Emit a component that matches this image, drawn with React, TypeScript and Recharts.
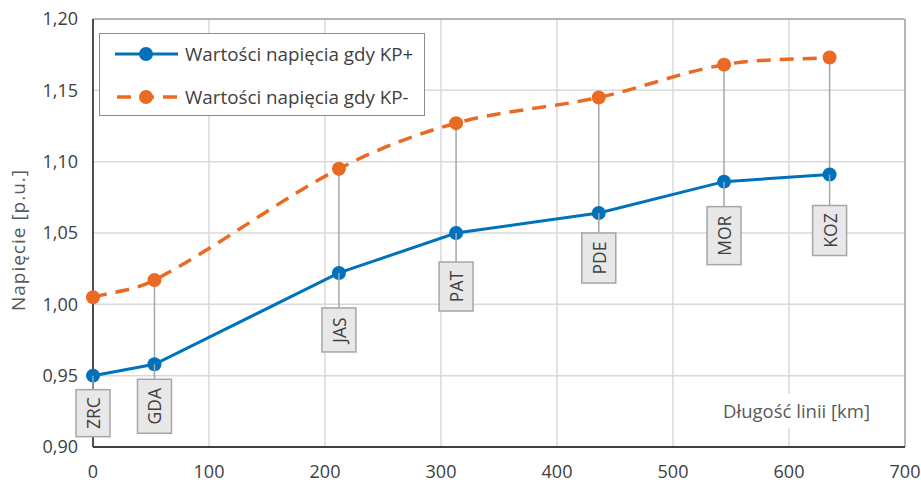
import React from 'react';
import {
  ComposedChart,
  Line,
  XAxis,
  YAxis,
  CartesianGrid,
  ErrorBar,
  LabelList,
  ReferenceLine,
  Label,
} from 'recharts';

// ---- data ----
const distancesKm = [0, 53, 212, 313, 436, 544, 635];
const stations = ['ZRC', 'GDA', 'JAS', 'PAT', 'PDE', 'MOR', 'KOZ'];
const kpPlus = [0.95, 0.958, 1.022, 1.05, 1.064, 1.086, 1.091];
const kpMinus = [1.005, 1.017, 1.095, 1.127, 1.145, 1.168, 1.173];
const xTicks = [0, 100, 200, 300, 400, 500, 600, 700];
const yTicks = [0.9, 0.95, 1.0, 1.05, 1.1, 1.15, 1.2];
const seriesNames = ['Wartości napięcia gdy KP+', 'Wartości napięcia gdy KP-'];

// ---- styles ----
const FONT = '"Open Sans", Lato, sans-serif';
const BLUE = '#0072BC';
const ORANGE = '#EA6A24';
const DROP = '#a6a6a6';
const labelGap = [14, 15, 35, 29, 20, 25, 31];
const labelBoxHeight = [47, 54, 44, 49, 50, 58, 50];

const data = distancesKm.map((d, i) => ({
  km: d,
  name: stations[i],
  plus: kpPlus[i],
  minus: kpMinus[i],
  span: [0, kpMinus[i] - kpPlus[i]],
}));

const fmt = (v: number, digits: number) => v.toFixed(digits).replace('.', ',');

// Smoothed line: cubic Hermite with finite-difference slopes (Excel-like look)
function smoothCurve(context: any) {
  let pts: [number, number][] = [];
  return {
    areaStart() {},
    areaEnd() {},
    lineStart() {
      pts = [];
    },
    point(x: number, y: number) {
      pts.push([+x, +y]);
    },
    lineEnd() {
      const n = pts.length;
      if (!n) return;
      context.moveTo(pts[0][0], pts[0][1]);
      if (n === 1) return;
      const slope = (a: [number, number], b: [number, number]) => (b[1] - a[1]) / (b[0] - a[0] || 1);
      const m = pts.map((p, i) => {
        if (i === 0) return slope(pts[0], pts[1]);
        if (i === n - 1) return slope(pts[n - 2], pts[n - 1]);
        return slope(pts[i - 1], pts[i + 1]);
      });
      for (let i = 0; i < n - 1; i++) {
        const p1 = pts[i];
        const p2 = pts[i + 1];
        const dx = (p2[0] - p1[0]) / 3;
        context.bezierCurveTo(p1[0] + dx, p1[1] + m[i] * dx, p2[0] - dx, p2[1] - m[i + 1] * dx, p2[0], p2[1]);
      }
    },
  };
}

const StationLabel = (props: any) => {
  const { x, y, index } = props;
  if (x == null || y == null) return null;
  const gap = labelGap[index] ?? 20;
  const h = labelBoxHeight[index] ?? 50;
  const w = 34;
  const top = y + gap;
  const cy = top + h / 2;
  return (
    <g>
      <line x1={x} y1={y} x2={x} y2={top} stroke={DROP} strokeWidth={1.5} />
      <rect x={x - w / 2} y={top} width={w} height={h} fill="#e8e8e8" stroke="#a6a6a6" strokeWidth={1.5} />
      <text
        x={x}
        y={cy}
        transform={`rotate(-90 ${x} ${cy})`}
        textAnchor="middle"
        dominantBaseline="central"
        fontFamily={FONT}
        fontSize={17.5}
        fill="#404040"
      >
        {stations[index]}
      </text>
    </g>
  );
};

const XTitle = (props: any) => {
  const vb = props.viewBox || {};
  const right = vb.x + vb.width - 35;
  const base = vb.y - 29;
  return (
    <g>
      <rect x={right - 156} y={vb.y - 53} width={160} height={34} fill="#ffffff" />
      <text x={right} y={base} textAnchor="end" fontFamily={FONT} fontSize={18.5} fill="#595959">
        Długość linii [km]
      </text>
    </g>
  );
};

const YTitle = (props: any) => {
  const vb = props.viewBox || {};
  const cx = 18;
  const cy = vb.y + vb.height / 2 + 7;
  return (
    <text
      x={cx}
      y={cy}
      transform={`rotate(-90 ${cx} ${cy})`}
      textAnchor="middle"
      dominantBaseline="central"
      fontFamily={FONT}
      fontSize={19}
      letterSpacing={1}
      fill="#595959"
    >
      Napięcie [p.u.]
    </text>
  );
};

const LegendBox = () => (
  <div
    style={{
      position: 'absolute',
      left: 99,
      top: 33,
      width: 326,
      height: 83,
      boxSizing: 'border-box',
      border: '1.5px solid #8c8c8c',
      background: '#ffffff',
    }}
  >
    <svg width={324} height={81} style={{ display: 'block' }}>
      <line x1={15} y1={20} x2={78} y2={20} stroke={BLUE} strokeWidth={3} />
      <circle cx={46} cy={20} r={7} fill={BLUE} />
      <text x={85} y={20} dominantBaseline="central" fontFamily={FONT} fontSize={18.8} fill="#404040">
        {seriesNames[0]}
      </text>
      <line x1={15} y1={63} x2={78} y2={63} stroke={ORANGE} strokeWidth={3.5} strokeDasharray="14 9" strokeDashoffset={-2} />
      <circle cx={46} cy={63} r={7} fill={ORANGE} />
      <text x={85} y={63} dominantBaseline="central" fontFamily={FONT} fontSize={18.8} fill="#404040">
        {seriesNames[1]}
      </text>
    </svg>
  </div>
);

export default function App() {
  return (
    <div style={{ position: 'absolute', left: 0, top: 0, width: 921, height: 484, background: '#ffffff' }}>
      <ComposedChart width={921} height={484} data={data} margin={{ top: 19, right: 16, bottom: 0, left: 0 }}>
        <CartesianGrid stroke="#d9d9d9" strokeWidth={1.5} />
        <XAxis
          dataKey="km"
          type="number"
          domain={[0, 700]}
          ticks={xTicks}
          height={37}
          tickLine={false}
          tickSize={0}
          tickMargin={18}
          axisLine={{ stroke: '#404040', strokeWidth: 1.8 }}
          tick={{ fontFamily: FONT, fontSize: 18, fill: '#404040' }}
          tickFormatter={(v: number) => String(v)}
          interval={0}
        >
          <Label content={<XTitle />} />
        </XAxis>
        <YAxis
          type="number"
          domain={[0.9, 1.2]}
          ticks={yTicks}
          width={93}
          tickLine={false}
          tickSize={0}
          tickMargin={15}
          allowDataOverflow
          axisLine={{ stroke: '#404040', strokeWidth: 1.8 }}
          tick={{ fontFamily: FONT, fontSize: 18, fill: '#404040' }}
          tickFormatter={(v: number) => fmt(v, 2)}
          interval={0}
        >
          <Label content={<YTitle />} />
        </YAxis>
        <ReferenceLine y={1.2} stroke="#a6a6a6" strokeWidth={1.5} />
        <ReferenceLine x={700} stroke="#a6a6a6" strokeWidth={1.5} />
        <Line
          dataKey="plus"
          type="linear"
          stroke={BLUE}
          strokeWidth={3}
          dot={{ r: 7, fill: BLUE, stroke: BLUE, strokeWidth: 0 }}
          activeDot={false}
          isAnimationActive={false}
        >
          <ErrorBar dataKey="span" width={0} stroke={DROP} strokeWidth={1.5} direction="y" />
          <LabelList dataKey="name" content={<StationLabel />} />
        </Line>
        <Line
          dataKey="minus"
          type={smoothCurve as any}
          stroke={ORANGE}
          strokeWidth={3.5}
          strokeDasharray="14 9"
          dot={{ r: 7, fill: ORANGE, stroke: ORANGE, strokeWidth: 0, strokeDasharray: '0' }}
          activeDot={false}
          isAnimationActive={false}
        />
      </ComposedChart>
      <LegendBox />
    </div>
  );
}
